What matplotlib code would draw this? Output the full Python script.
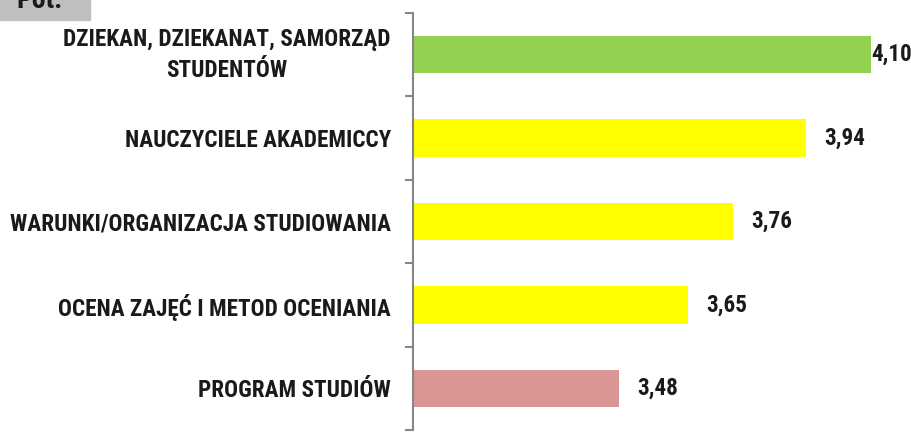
import matplotlib.pyplot as plt
from matplotlib import font_manager
from matplotlib.patches import Rectangle
from matplotlib.transforms import ScaledTranslation

# categories from bottom to top
categories = ['PROGRAM STUDIÓW',
              'OCENA ZAJĘĆ I METOD OCENIANIA',
              'WARUNKI/ORGANIZACJA STUDIOWANIA',
              'NAUCZYCIELE AKADEMICCY',
              'DZIEKAN, DZIEKANAT, SAMORZĄD\nSTUDENTÓW']
values = [3.48, 3.65, 3.76, 3.94, 4.10]
value_labels = ['3,48', '3,65', '3,76', '3,94', '4,10']
bar_colors = ['#D99694', '#FFFF00', '#FFFF00', '#FFFF00', '#92D050']

# look for a narrow font (the original is Calibri-like)
names = {f.name for f in font_manager.fontManager.ttflist}
narrow = [n for n in ['Liberation Sans Narrow', 'Roboto Condensed', 'Open Sans Condensed',
                      'Noto Sans Condensed', 'DejaVu Sans Condensed'] if n in names]
stretch = 'normal'
if narrow:
    family = [narrow[0], 'DejaVu Sans']
else:
    family = ['DejaVu Sans']
    cond = [f for f in font_manager.fontManager.ttflist
            if f.name == 'DejaVu Sans' and f.stretch == 'condensed']
    if cond:
        stretch = 'condensed'
plt.rcParams['font.family'] = family
plt.rcParams['font.stretch'] = stretch

fs = 15
fig = plt.figure(figsize=(9.12, 4.32), dpi=100)
ax = fig.add_axes([413 / 912, 2 / 432, 1 - 413 / 912, 1 - 15 / 432])

y = range(len(categories))
ax.barh(y, values, height=0.45, color=bar_colors, edgecolor='none')
ax.set_xlim(2.975, 4.2)
ax.set_ylim(-0.5, len(categories) - 0.5)

ax.set_yticks(list(y))
ax.set_yticklabels(categories, fontweight='bold', color='#1a1a1a', linespacing=1.45)
ax.set_yticks([i - 0.5 for i in range(len(categories) + 1)], minor=True)
ax.tick_params(axis='y', which='major', length=0, pad=16)
ax.tick_params(axis='y', which='minor', length=6, width=1.5, color='#868686')
ax.set_xticks([])

# size the labels so the widest one spans about 382 px like the original
r = fig.canvas.get_renderer()
probe = fig.text(0, 0, categories[2], fontsize=fs, fontweight='bold')
w = probe.get_window_extent(r).width
probe.remove()
fs = fs * 382 / w

for t in ax.get_yticklabels():
    t.set_multialignment('center')
    t.set_fontsize(fs)
# the two-line label sits a little higher than its bar
top_lab = ax.get_yticklabels()[-1]
top_lab.set_transform(top_lab.get_transform() + ScaledTranslation(0, 6 / 100, fig.dpi_scale_trans))

for yi, v, lab in zip(y, values, value_labels):
    if v >= 4.05:
        # top label gets pushed back against the right edge
        ax.text(4.2, yi, lab, ha='right', va='center', fontsize=fs,
                fontweight='bold', color='#1a1a1a')
    else:
        ax.annotate(lab, (v, yi), xytext=(13, 0), textcoords='offset points',
                    ha='left', va='center', fontsize=fs, fontweight='bold',
                    color='#1a1a1a')

for s in ['top', 'right', 'bottom']:
    ax.spines[s].set_visible(False)
ax.spines['left'].set_color('#868686')
ax.spines['left'].set_linewidth(1.5)

# grey header box cut off at the top edge
fig.patches.append(Rectangle((0, 1 - 20 / 432), 90 / 912, 20 / 432,
                             transform=fig.transFigure, color='#BFBFBF', zorder=0))
fig.text(16 / 912, 1 - 14 / 432, 'Pot.', fontsize=20, fontweight='bold',
         color='#1a1a1a', va='bottom', ha='left')

fig.savefig('out.png', dpi=100)
